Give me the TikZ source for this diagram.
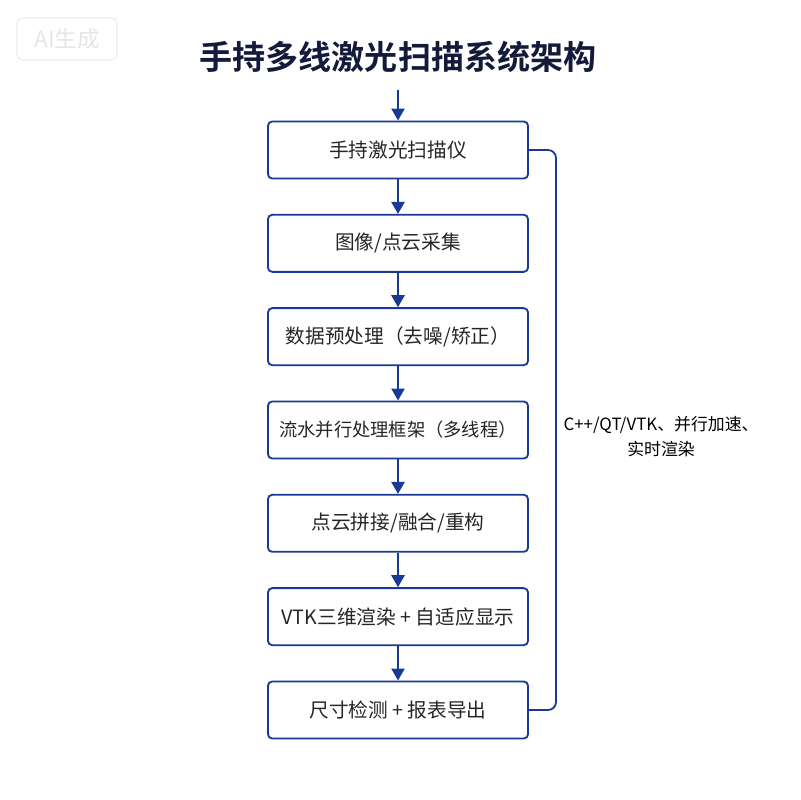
\documentclass[tikz,border=0pt]{standalone}
\usepackage{fontspec}
\setmainfont{Noto Sans CJK SC}[BoldFont={Noto Sans CJK SC Bold}]
\usetikzlibrary{arrows.meta, positioning}
\definecolor{flowblue}{RGB}{24,58,148}
\definecolor{titlenavy}{RGB}{20,26,58}
\tikzset{
    stagebox/.style={draw=flowblue, line width=1.3pt, rounded corners=3pt, fill=white,
        minimum width=6.5cm, minimum height=1.425cm, text=black!85,
        font=\fontsize{14}{17}\selectfont},
    flowarrow/.style={-{Triangle[length=0.3cm, width=0.33cm]}, draw=flowblue, line width=1.3pt},
}
\begin{document}
\begin{tikzpicture}[x=0.025cm, y=-0.025cm]
    \useasboundingbox (0,0) rectangle (800,800);
    % 水印
    \node[draw=black!7, rounded corners=4pt, line width=0.8pt, minimum width=2.5cm, minimum height=1.05cm,
        text=black!10, font=\fontsize{16}{18}\selectfont] (mark) at (67,39) {AI生成};
    % 标题
    \node[font=\fontsize{23.5}{28}\selectfont\bfseries, text=titlenavy] (title) at (398,57) {手持多线激光扫描系统架构};

    % 流程各环节
    \foreach \txt [count=\i] in {手持激光扫描仪, 图像/点云采集, 数据预处理（去噪/矫正）,
        {\fontsize{13}{16}\selectfont 流水并行处理框架（多线程）}, 点云拼接/融合/重构,
        VTK三维渲染 + 自适应显示, 尺寸检测 + 报表导出} {
        \node[stagebox] (B\i) at (398,{150+93.33*(\i-1)}) {\txt};
    }

    % 箭头
    \coordinate (in) at (398,90);
    \draw[flowarrow] (in) -- (B1.north);
    \foreach \i/\j in {1/2, 2/3, 3/4, 4/5, 5/6, 6/7} {
        \draw[flowarrow] (B\i.south) -- (B\j.north);
    }

    % 右侧技术说明
    \coordinate (rtop) at (556,150);
    \coordinate (rbot) at (556,710);
    \draw[draw=flowblue, line width=1.3pt, rounded corners=0.2cm] (B1.east) -- (rtop) -- (rbot) -- (B7.east);
    \node[align=center, font=\fontsize{12}{17.8}\selectfont] (note) at (661,437) {C++/QT/VTK、并行加速、\\实时渲染};
\end{tikzpicture}
\end{document}
